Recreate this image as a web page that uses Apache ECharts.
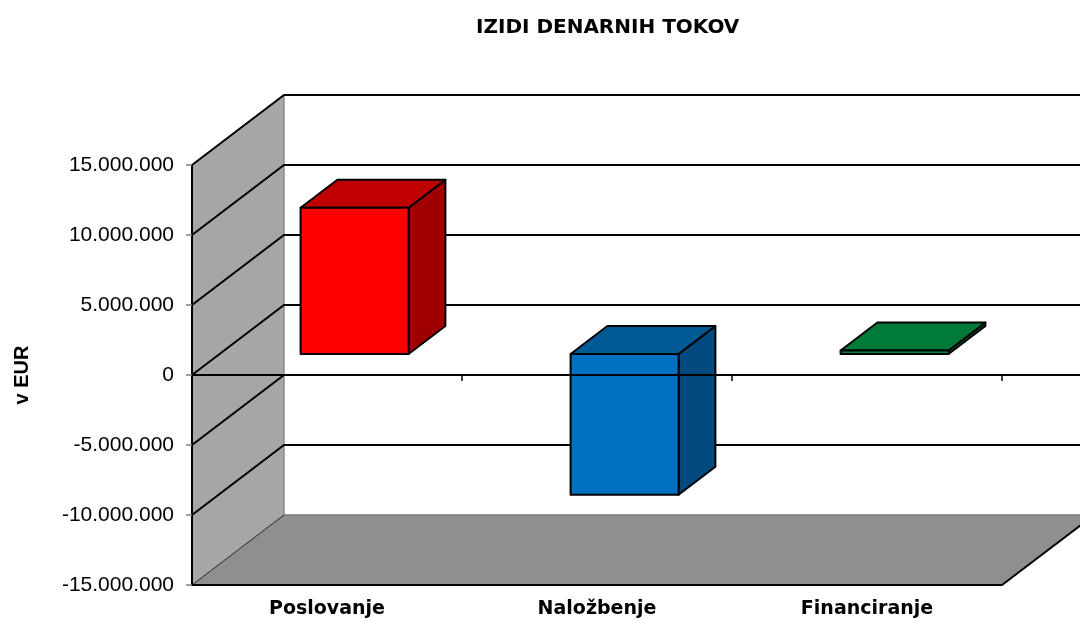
<!DOCTYPE html>
<html>
<head>
<meta charset="utf-8">
<script src="https://cdn.jsdelivr.net/npm/echarts@6/dist/echarts.min.js"></script>
<style>
html,body{margin:0;padding:0;background:#fff;}
#chart{width:1080px;height:623px;}
</style>
</head>
<body>
<div id="chart"></div>
<script>
// ---- data ----
const categories = ['Poslovanje', 'Naložbenje', 'Financiranje'];
const values = [10450000, -10050000, 250000];
const yMin = -15000000;
const yMax = 15000000;
const yStep = 5000000;
const titleText = 'IZIDI DENARNIH TOKOV';
const yAxisTitle = 'v EUR';

// ---- styles ----
const frontColors = ['#ff0000', '#0070c0', '#00843d'];
const topColors = ['#c00000', '#005a96', '#007a38'];
const sideColors = ['#a00000', '#004a80', '#005a2a'];
const DX = 92, DY = -70;      // depth of the 3D box
const F0 = 0.3, F1 = 0.7;     // bar depth position (front/back fraction)
const BAR_W = 0.4;            // bar width as fraction of category band

function fmt(v) {
  const s = String(Math.abs(v)).replace(/\B(?=(\d{3})+(?!\d))/g, '.');
  return (v < 0 ? '-' : '') + s;
}

function bandInfo(api) {
  const c0 = api.coord([0, 0]);
  const c1 = api.coord([1, 0]);
  const bw = c1[0] - c0[0];
  const xL = c0[0] - bw / 2;
  const xR = api.coord([categories.length - 1, 0])[0] + bw / 2;
  return { bw, xL, xR };
}

function renderFrame(params, api) {
  const { xL, xR } = bandInfo(api);
  const yB = api.coord([0, yMin])[1];
  const yT = api.coord([0, yMax])[1];
  const ch = [];
  ch.push({ type: 'polygon', shape: { points: [[xL, yB], [xL, yT], [xL + DX, yT + DY], [xL + DX, yB + DY]] },
    style: { fill: '#a6a6a6', stroke: null } });
  ch.push({ type: 'polygon', shape: { points: [[xL, yB], [xR, yB], [xR + DX, yB + DY], [xL + DX, yB + DY]] },
    style: { fill: '#8f8f8f', stroke: null } });
  ch.push({ type: 'line', shape: { x1: xL + DX, y1: yT + DY, x2: xL + DX, y2: yB + DY },
    style: { stroke: '#8a8a8a', lineWidth: 1.5 } });
  ch.push({ type: 'line', shape: { x1: xL + DX, y1: yB + DY, x2: xR + DX, y2: yB + DY },
    style: { stroke: '#7a7a7a', lineWidth: 1.5 } });
  ch.push({ type: 'line', shape: { x1: xL, y1: yB, x2: xL + DX, y2: yB + DY },
    style: { stroke: '#222', lineWidth: 1 } });
  ch.push({ type: 'line', shape: { x1: xR, y1: yB, x2: xR + DX, y2: yB + DY },
    style: { stroke: '#000', lineWidth: 2 } });
  for (let v = yMin + yStep; v <= yMax; v += yStep) {
    const y = api.coord([0, v])[1];
    ch.push({ type: 'polyline', shape: { points: [[xL, y], [xL + DX, y + DY], [xR + DX, y + DY]] },
      style: { stroke: '#000', lineWidth: 2, fill: null } });
  }
  return { type: 'group', children: ch };
}

function renderBar(params, api) {
  const i = api.value(0);
  const v = api.value(1);
  const { bw } = bandInfo(api);
  const cx = api.coord([i, 0])[0];
  const y0 = api.coord([i, 0])[1];
  const y1 = api.coord([i, v])[1];
  const yHi = Math.min(y0, y1), yLo = Math.max(y0, y1);
  const w = bw * BAR_W;
  const fdx = DX * F0, fdy = DY * F0, bdx = DX * F1, bdy = DY * F1;
  const xa = cx - w / 2 + fdx, xb = cx + w / 2 + fdx;
  const dd = bdx - fdx;
  const st = { stroke: '#000', lineWidth: 2, lineJoin: 'round' };
  return { type: 'group', children: [
    { type: 'polygon', shape: { points: [[xb, yHi + fdy], [xb + dd, yHi + bdy], [xb + dd, yLo + bdy], [xb, yLo + fdy]] },
      style: Object.assign({ fill: sideColors[i] }, st) },
    { type: 'polygon', shape: { points: [[xa, yHi + fdy], [xb, yHi + fdy], [xb + dd, yHi + bdy], [xa + dd, yHi + bdy]] },
      style: Object.assign({ fill: topColors[i] }, st) },
    { type: 'polygon', shape: { points: [[xa, yHi + fdy], [xb, yHi + fdy], [xb, yLo + fdy], [xa, yLo + fdy]] },
      style: Object.assign({ fill: frontColors[i] }, st) }
  ] };
}

function renderZero(params, api) {
  const { bw, xL, xR } = bandInfo(api);
  const y0 = api.coord([0, 0])[1];
  const ch = [{ type: 'line', shape: { x1: xL, y1: y0, x2: xR, y2: y0 }, style: { stroke: '#000', lineWidth: 2 } }];
  for (let k = 1; k <= categories.length; k++) {
    const x = xL + k * bw;
    ch.push({ type: 'line', shape: { x1: x, y1: y0, x2: x, y2: y0 + 6 }, style: { stroke: '#000', lineWidth: 1.5 } });
  }
  return { type: 'group', children: ch };
}

const chart = echarts.init(document.getElementById('chart'), null, { renderer: 'canvas' });
chart.setOption({
  animation: false,
  backgroundColor: '#ffffff',
  title: {
    text: titleText, left: 471, top: 13,
    textStyle: { fontFamily: 'DejaVu Sans', fontWeight: 'bold', fontSize: 20, color: '#000' }
  },
  grid: { left: 192, right: 78, top: 165, bottom: 38 },
  xAxis: {
    type: 'category', data: categories, boundaryGap: true, z: 10,
    axisLine: { onZero: false, lineStyle: { color: '#000', width: 2 } },
    axisTick: { show: false },
    splitLine: { show: false },
    axisLabel: { margin: 15, fontFamily: 'DejaVu Sans', fontWeight: 'bold', fontSize: 19, color: '#000' }
  },
  yAxis: {
    type: 'value', min: yMin, max: yMax, interval: yStep, z: 10,
    name: yAxisTitle, nameLocation: 'middle', nameGap: 160, nameRotate: 90,
    nameTextStyle: { fontFamily: 'Liberation Sans', fontWeight: 'bold', fontSize: 20, color: '#000' },
    axisLine: { show: true, lineStyle: { color: '#000', width: 2 } },
    axisTick: { show: true, length: 6, lineStyle: { color: '#808080', width: 1.5 } },
    splitLine: { show: false },
    axisLabel: { margin: 18, fontFamily: 'Liberation Sans', fontSize: 21, color: '#000', formatter: fmt }
  },
  series: [
    { type: 'custom', z: 1, silent: true, data: [[0, 0]], encode: { x: 0, y: 1 }, renderItem: renderFrame },
    { type: 'custom', z: 3, data: values.map((v, i) => [i, v]), encode: { x: 0, y: 1 }, renderItem: renderBar },
    { type: 'custom', z: 5, silent: true, data: [[0, 0]], encode: { x: 0, y: 1 }, renderItem: renderZero }
  ]
});
</script>
</body>
</html>
